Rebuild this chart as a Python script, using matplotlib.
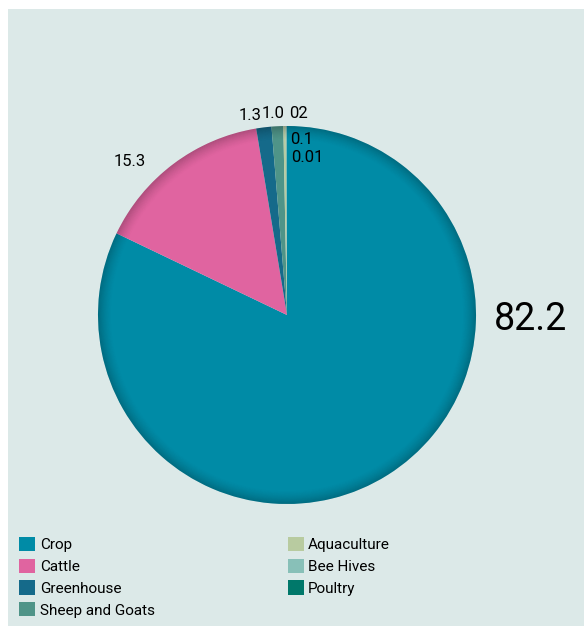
import matplotlib

matplotlib.use("Agg")

import matplotlib.pyplot as plt
import numpy as np
from matplotlib.patches import Rectangle, Wedge

categories = ["Crop", "Cattle", "Greenhouse", "Sheep and Goats", "Aquaculture", "Bee Hives", "Poultry"]
shares = [82.2, 15.3, 1.3, 1.0, 0.2, 0.1, 0.01]
value_labels = ["82.2", "15.3", "1.3", "1.0", "02", "0.1", "0.01"]
colors = ["#008ba6", "#e064a0", "#156a8a", "#4f9488", "#b8cba0", "#88c0b8", "#00786a"]

W, H = 584, 626
BG = "#dce9e8"

plt.rcParams["font.family"] = ["Roboto", "DejaVu Sans"]

fig = plt.figure(figsize=(W / 100, H / 100), dpi=100)
fig.patch.set_facecolor("white")
fig.patches.append(Rectangle((8 / W, 0), 1 - 8 / W, 1 - 9 / H, transform=fig.transFigure,
                             facecolor=BG, edgecolor="none", zorder=-5))

# pie: centre (287, 315) px, radius 189 px
cx, cy, r = 287, 315, 189
ax = fig.add_axes([(cx - r) / W, (H - cy - r) / H, 2 * r / W, 2 * r / H])
ax.pie(shares, colors=colors, startangle=90, counterclock=False, radius=1.0,
       wedgeprops=dict(linewidth=0))
ax.set_xlim(-1, 1)
ax.set_ylim(-1, 1)
ax.axis("off")

# darker rim
n = 14
for i in range(n):
    r_out = 1.0 - i * 0.005
    ax.add_patch(Wedge((0, 0), r_out, 0, 360, width=0.005, facecolor="black",
                       alpha=0.22 * (1 - i / n) ** 1.5, linewidth=0))

# value labels (pixel positions from the reference)
label_pos = [(531, 320, 27), (130, 162, 12), (250, 116, 12), (273, 114, 12),
             (298, 114, 12), (302, 140, 12), (307, 157, 12)]
for text, (x, y, fs) in zip(value_labels, label_pos):
    fig.text(x / W, 1 - y / H, text, ha="center", va="center", fontsize=fs, color="black")

handles = [Rectangle((0, 0), 1, 1, facecolor=c, edgecolor="none") for c in colors]
fig.legend(handles, categories, ncol=2, loc="upper left",
           bbox_to_anchor=(16 / W, 1 - 534 / H), frameon=False, fontsize=11,
           handlelength=1.05, handleheight=1.05, handletextpad=0.3,
           labelspacing=0.42, columnspacing=8.7, borderaxespad=0, borderpad=0.2)

fig.savefig("out.png", dpi=100, facecolor=fig.get_facecolor())
